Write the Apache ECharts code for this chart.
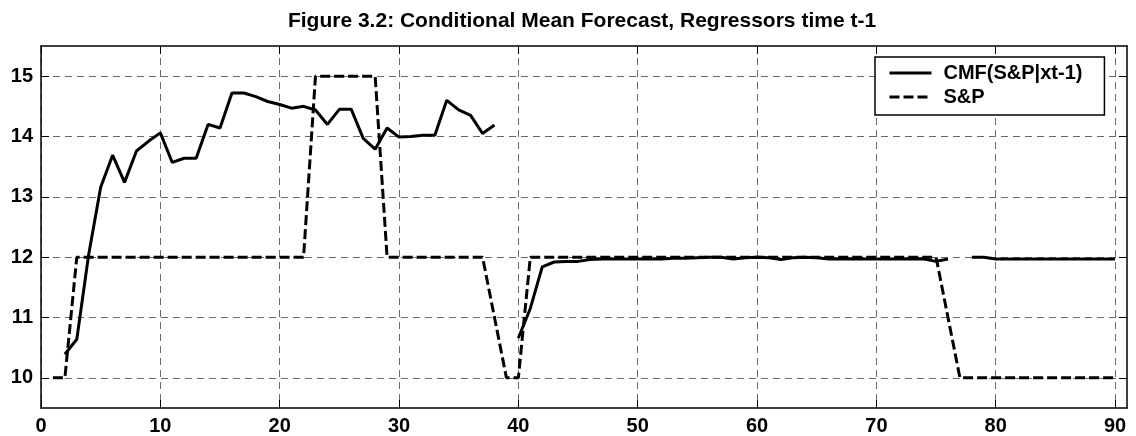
<!DOCTYPE html>
<html><head><meta charset="utf-8">
<script src="https://cdn.jsdelivr.net/npm/echarts@6/dist/echarts.min.js"></script>
<style>html,body{margin:0;padding:0;background:#fff}#c{width:1136px;height:436px}</style>
</head><body><div id="c"></div>
<script>
const titleText = 'Figure 3.2: Conditional Mean Forecast, Regressors time t-1';
const seriesNames = ['CMF(S&P|xt-1)', 'S&P'];
const xValues = [1,2,3,4,5,6,7,8,9,10,11,12,13,14,15,16,17,18,19,20,21,22,23,24,25,26,27,28,29,30,
  31,32,33,34,35,36,37,38,39,40,41,42,43,44,45,46,47,48,49,50,51,52,53,54,55,56,57,58,59,60,
  61,62,63,64,65,66,67,68,69,70,71,72,73,74,75,76,77,78,79,80,81,82,83,84,85,86,87,88,89,90];
const cmfValues = [null,10.39,10.64,12.05,13.16,13.69,13.24,13.76,13.92,14.06,
  13.57,13.64,13.64,14.20,14.14,14.72,14.72,14.66,14.58,14.53,
  14.47,14.50,14.44,14.20,14.45,14.45,13.97,13.79,14.14,13.99,
  14.00,14.02,14.02,14.60,14.44,14.35,14.05,14.19,null,10.66,
  11.15,11.84,11.92,11.93,11.93,11.96,11.97,11.97,11.97,11.97,
  11.97,11.97,11.98,11.98,11.99,12.00,12.00,11.97,11.99,12.00,
  11.99,11.96,11.99,12.00,11.99,11.97,11.97,11.97,11.97,11.97,
  11.97,11.97,11.97,11.97,11.93,11.97,null,12.00,12.00,11.97,
  11.97,11.97,11.97,11.97,11.97,11.97,11.97,11.97,11.97,11.97];
const spValues = [10,10,12,12,12,12,12,12,12,12,
  12,12,12,12,12,12,12,12,12,12,
  12,12,15,15,15,15,15,15,12,12,
  12,12,12,12,12,12,12,11,10,10,
  12,12,12,12,12,12,12,12,12,12,
  12,12,12,12,12,12,12,12,12,12,
  12,12,12,12,12,12,12,12,12,12,
  12,12,12,12,12,11,10,10,10,10,
  10,10,10,10,10,10,10,10,10,10];
const xTicks = [0,10,20,30,40,50,60,70,80,90];
const yTicks = [10,11,12,13,14,15];

const FONT = "'Liberation Sans', Arial, Helvetica, sans-serif";
const pairs = (ys) => xValues.map((x, i) => [x, ys[i]]);
const gridLine = { show: true, lineStyle: { color: '#6a6a6a', width: 1, type: [7, 5] } };

const chart = echarts.init(document.getElementById('c'), null, { renderer: 'canvas' });
chart.setOption({
  animation: false,
  backgroundColor: '#fff',
  title: {
    text: titleText, left: 582, top: 11, padding: 0, textAlign: 'center',
    textStyle: { fontFamily: FONT, fontSize: 21, fontWeight: 'bold', color: '#000' }
  },
  grid: { left: 41, right: 9, top: 46, bottom: 28, show: false },
  legend: {
    orient: 'vertical', left: 875, top: 57,
    padding: [6, 22, 8, 13], itemWidth: 42, itemHeight: 14, itemGap: 4,
    borderColor: '#000', borderWidth: 1.5, backgroundColor: '#fff',
    itemStyle: { opacity: 0 },
    lineStyle: { width: 3 },
    textStyle: { fontFamily: FONT, fontSize: 20, fontWeight: 'bold', color: '#000', lineHeight: 20, padding: [0, 0, 0, 7] },
    data: seriesNames
  },
  xAxis: [{
    type: 'value', min: 0, max: 91, position: 'bottom',
    axisLine: { show: true, onZero: false, lineStyle: { color: '#000', width: 1.5 } },
    axisTick: { show: true, inside: true, length: 8, customValues: xTicks, lineStyle: { color: '#000', width: 1 } },
    axisLabel: { show: true, customValues: xTicks, margin: 8, fontFamily: FONT, fontSize: 20, fontWeight: 'bold', color: '#000' },
    splitLine: gridLine
  }, {
    type: 'value', min: 0, max: 91, position: 'top',
    axisLine: { show: true, onZero: false, lineStyle: { color: '#000', width: 1.5 } },
    axisTick: { show: true, inside: true, length: 8, customValues: xTicks, lineStyle: { color: '#000', width: 1 } },
    axisLabel: { show: false }, splitLine: { show: false }
  }],
  yAxis: [{
    type: 'value', min: 9.5, max: 15.5, position: 'left',
    axisLine: { show: true, onZero: false, lineStyle: { color: '#000', width: 1.5 } },
    axisTick: { show: true, inside: true, length: 8, customValues: yTicks, lineStyle: { color: '#000', width: 1 } },
    axisLabel: { show: true, customValues: yTicks, margin: 8, fontFamily: FONT, fontSize: 20, fontWeight: 'bold', color: '#000' },
    splitLine: gridLine
  }, {
    type: 'value', min: 9.5, max: 15.5, position: 'right',
    axisLine: { show: true, onZero: false, lineStyle: { color: '#000', width: 1.5 } },
    axisTick: { show: true, inside: true, length: 8, customValues: yTicks, lineStyle: { color: '#000', width: 1 } },
    axisLabel: { show: false }, splitLine: { show: false }
  }],
  series: [{
    name: seriesNames[0], type: 'line', xAxisIndex: 0, yAxisIndex: 0,
    data: pairs(cmfValues), symbol: 'none', connectNulls: false,
    lineStyle: { color: '#000', width: 3, type: 'solid' }, itemStyle: { color: '#000' }, z: 3
  }, {
    name: seriesNames[1], type: 'line', xAxisIndex: 0, yAxisIndex: 0,
    data: pairs(spValues), symbol: 'none',
    lineStyle: { color: '#000', width: 3, type: [10, 4] }, itemStyle: { color: '#000' }, z: 2
  }]
});
</script></body></html>
